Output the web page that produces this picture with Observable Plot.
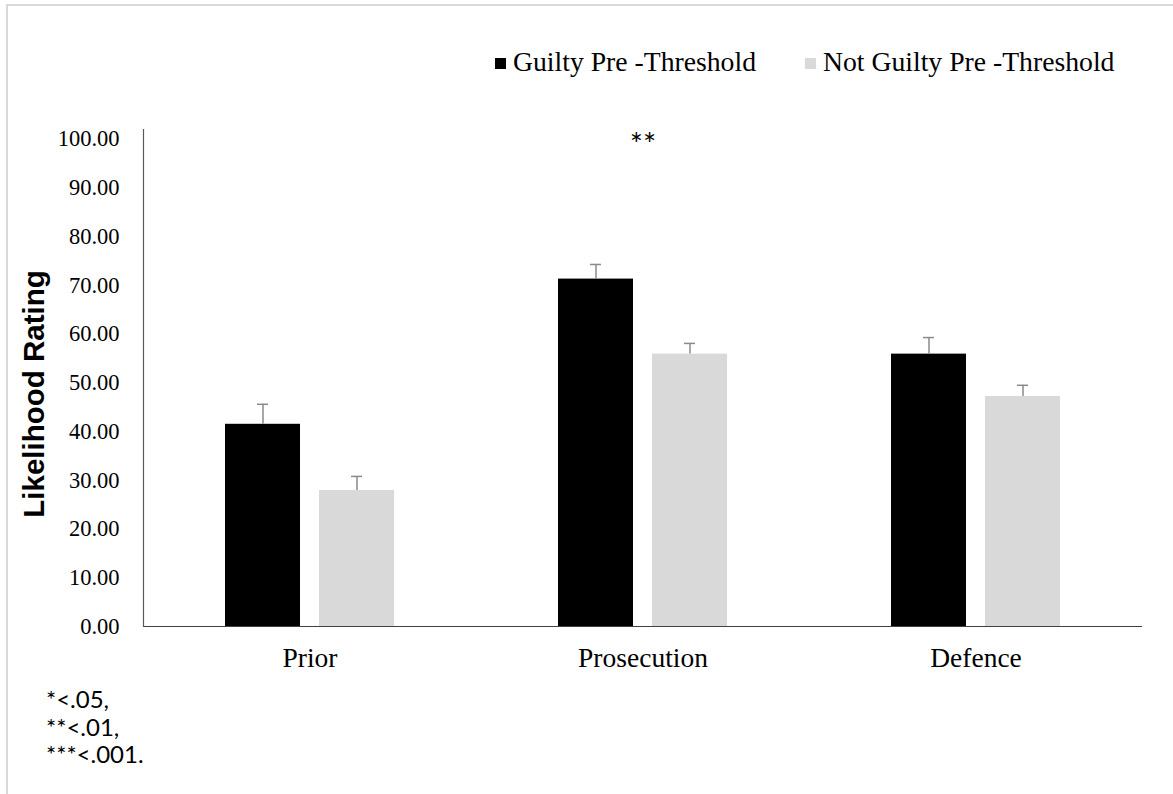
<!DOCTYPE html>
<html>
<head>
<meta charset="utf-8">
<script src="https://cdn.jsdelivr.net/npm/d3@7"></script>
<script src="https://cdn.jsdelivr.net/npm/@observablehq/plot@0.6"></script>
<style>
  html, body { margin: 0; padding: 0; background: #ffffff; overflow: hidden; }
  #page { position: relative; width: 1173px; height: 794px; overflow: hidden; background: #fff; }
  #border { position: absolute; left: 6px; top: 4px; width: 1300px; height: 900px;
            border-top: 2px solid #d9d9d9; border-left: 2px solid #d9d9d9; box-sizing: border-box; }
  #chart { position: absolute; left: 0; top: 0; }
  #legend { position: absolute; left: 495px; top: 48px; height: 28px; display: flex; align-items: center;
            font-family: "Liberation Serif", "Times New Roman", serif; font-size: 27.7px; line-height: 28px; color: #000; white-space: nowrap; }
  #legend .item { display: flex; align-items: center; margin-right: 49px; }
  #legend .sw { width: 11px; height: 11px; margin-right: 7px; margin-top: 3px; }
  #ylabel { position: absolute; left: 34px; top: 394px; transform: translate(-50%, -50%) rotate(-90deg);
            font-family: "Liberation Sans", Arial, sans-serif; font-weight: bold; font-size: 29.5px; white-space: nowrap; color: #000; }
  #notes { position: absolute; left: 46px; top: 685px; font-family: Lato, "Open Sans", sans-serif; font-size: 24px; line-height: 27.5px; color: #000; }
</style>
</head>
<body>
<div id="page">
  <div id="border"></div>
  <div id="chart"></div>
  <div id="legend"></div>
  <div id="ylabel"></div>
  <div id="notes"></div>
</div>
<script>
// ---- data ----
const categories = ["Prior", "Prosecution", "Defence"];
const series = ["Guilty Pre -Threshold", "Not Guilty Pre -Threshold"];
const seriesColors = ["#000000", "#d9d9d9"];
const guiltyMeans = [41.5, 71.3, 55.9];
const guiltySE = [4.1, 3.0, 3.4];
const notGuiltyMeans = [27.9, 55.9, 47.2];
const notGuiltySE = [2.9, 2.2, 2.3];
const yTicks = [0, 10, 20, 30, 40, 50, 60, 70, 80, 90, 100];
const yLabel = "Likelihood Rating";
const significance = [{category: "Prosecution", label: "**", level: 100}];
const footnotes = ["*<.05,", "**<.01,", "***<.001."];

// ---- table built from arrays ----
const data = [];
categories.forEach((c, i) => {
  data.push({category: c, series: series[0], mean: guiltyMeans[i], hi: guiltyMeans[i] + guiltySE[i]});
  data.push({category: c, series: series[1], mean: notGuiltyMeans[i], hi: notGuiltyMeans[i] + notGuiltySE[i]});
});

const serif = "'Liberation Serif', 'Times New Roman', serif";

const chart = Plot.plot({
  width: 1173,
  height: 794,
  marginTop: 129,
  marginBottom: 168,
  marginLeft: 143,
  marginRight: 31,
  style: {fontFamily: serif, background: "transparent", color: "#000"},
  fx: {domain: categories, padding: 0, label: null},
  x: {domain: series, paddingInner: 0.2, paddingOuter: 0.87, axis: null},
  y: {domain: [0, 102], axis: null},
  color: {domain: series, range: seriesColors},
  marks: [
    Plot.barY(data, {fx: "category", x: "series", y: "mean", fill: "series"}),
    Plot.ruleX(data, {fx: "category", x: "series", y1: "mean", y2: "hi", stroke: "#8a8a8a", strokeWidth: 1.5}),
    Plot.tickY(data, {fx: "category", x: "series", y: "hi", stroke: "#8a8a8a", strokeWidth: 1.5, insetLeft: 32, insetRight: 32}),
    Plot.ruleY([0], {stroke: "#404040", strokeWidth: 1.2}),
    Plot.frame({anchor: "left", facet: "super", stroke: "#595959", strokeWidth: 1.2}),
    Plot.axisY({ticks: yTicks, tickFormat: d => d.toFixed(2), tickSize: 0, tickPadding: 24, fontSize: 22.5, fontFamily: serif, fontVariant: "normal", label: null}),
    Plot.axisFx({anchor: "bottom", tickSize: 0, tickPadding: 21, fontSize: 27.5, fontFamily: serif, label: null}),
    Plot.text(significance, {fx: "category", y: "level", text: "label", fontSize: 31, fontFamily: "Lato, 'Open Sans', sans-serif", fill: "#000", dy: 6})
  ]
});
document.getElementById("chart").appendChild(chart);

// legend
const legend = document.getElementById("legend");
series.forEach((s, i) => {
  const item = document.createElement("div");
  item.className = "item";
  const sw = document.createElement("span");
  sw.className = "sw";
  sw.style.background = seriesColors[i];
  const t = document.createElement("span");
  t.textContent = s;
  item.appendChild(sw);
  item.appendChild(t);
  legend.appendChild(item);
});

document.getElementById("ylabel").textContent = yLabel;
document.getElementById("notes").innerHTML = footnotes.map(f => `<div>${f.replace(/</g, "&lt;")}</div>`).join("");
</script>
</body>
</html>
